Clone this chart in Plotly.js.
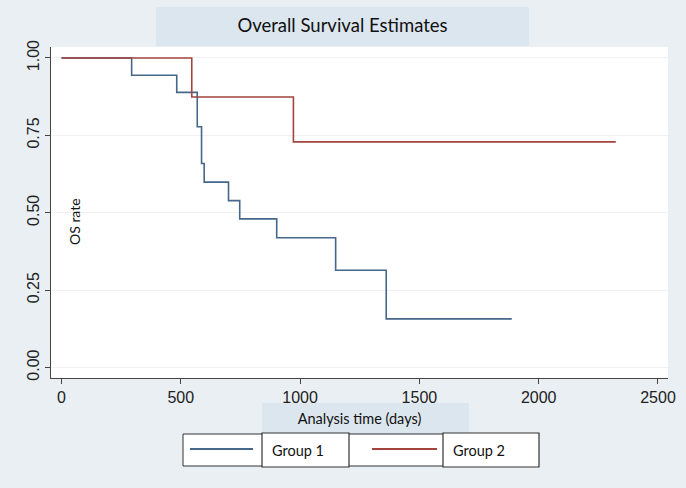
<!DOCTYPE html>
<html>
<head>
<meta charset="utf-8">
<script src="https://cdn.plot.ly/plotly-3.0.1.min.js"></script>
<style>html,body{margin:0;padding:0;background:#e9eff3;}#chart{width:686px;height:488px;}</style>
</head>
<body>
<div id="chart"></div>
<script>
// ---- data ----
const group1Time = [0, 294, 483, 569, 587, 598, 700, 747, 902, 1149, 1361, 1887];
const group1Surv = [1.000, 0.944, 0.889, 0.778, 0.659, 0.599, 0.539, 0.480, 0.419, 0.314, 0.157, 0.157];
const group2Time = [0, 546, 972, 2323];
const group2Surv = [1.000, 0.874, 0.729, 0.729];
const seriesNames = ["Group 1", "Group 2"];
const xTicks = [0, 500, 1000, 1500, 2000, 2500];
const yTicks = [0, 0.25, 0.5, 0.75, 1.0];
const yTickLabels = ["0.00", "0.25", "0.50", "0.75", "1.00"];

// ---- layout helpers (pixel -> paper) ----
const W = 686, H = 488, ML = 51, MR = 18, MT = 47, MB = 110;
const PW = W - ML - MR, PH = H - MT - MB;
const fx = p => (p - ML) / PW;
const fy = p => (H - MB - p) / PH;

const blue = '#46668a', red = '#a3443f';
const boxFill = '#dce6ee';
const calibri = 'Lato, "Open Sans", sans-serif';

const traces = [
  {x: group1Time, y: group1Surv, name: seriesNames[0], mode: 'lines', line: {shape: 'hv', color: blue, width: 1.6}, hoverinfo: 'x+y'},
  {x: group2Time, y: group2Surv, name: seriesNames[1], mode: 'lines', line: {shape: 'hv', color: red, width: 1.6}, hoverinfo: 'x+y'}
];

function rect(x0, y0, x1, y1, fill, lineColor, lw) {
  return {type: 'rect', xref: 'paper', yref: 'paper', x0: fx(x0), x1: fx(x1), y0: fy(y1), y1: fy(y0),
          fillcolor: fill, line: {color: lineColor || fill, width: lw || 0}, layer: 'above'};
}
function hline(x0, x1, y, color) {
  return {type: 'line', xref: 'paper', yref: 'paper', x0: fx(x0), x1: fx(x1), y0: fy(y), y1: fy(y),
          line: {color: color, width: 2}, layer: 'above'};
}

const shapes = [
  rect(156, 7, 529, 46, boxFill),              // title box
  rect(262, 403, 469, 434, boxFill),           // x title box
  rect(183, 434, 538, 466, '#ffffff', '#333333', 1), // legend outer
  rect(262, 433, 349, 467, '#ffffff', '#333333', 1.2),
  rect(443, 433, 539, 467, '#ffffff', '#333333', 1.2),
  hline(190, 253, 449, blue),
  hline(372, 437, 449, red)
];

const annotations = [
  {text: 'OS rate', xref: 'paper', yref: 'paper', x: fx(75), y: fy(222), textangle: -90, showarrow: false,
   font: {family: calibri, size: 14, color: '#111'}, xanchor: 'center', yanchor: 'middle'},
  {text: seriesNames[0], xref: 'paper', yref: 'paper', x: fx(298), y: fy(450), showarrow: false,
   font: {family: calibri, size: 14.5, color: '#111'}, xanchor: 'center', yanchor: 'middle'},
  {text: seriesNames[1], xref: 'paper', yref: 'paper', x: fx(479), y: fy(450), showarrow: false,
   font: {family: calibri, size: 14.5, color: '#111'}, xanchor: 'center', yanchor: 'middle'}
];

const layout = {
  width: W, height: H,
  margin: {l: ML, r: MR, t: MT, b: MB, pad: 0},
  paper_bgcolor: '#e9eff3',
  plot_bgcolor: '#ffffff',
  showlegend: false,
  title: {text: 'Overall Survival Estimates', xref: 'container', yref: 'container', x: 342.5 / W, y: 1 - 26 / H,
          xanchor: 'center', yanchor: 'middle', font: {family: calibri, size: 18.5, color: '#111'}},
  xaxis: {
    range: [-44, 2542], tickvals: xTicks, ticktext: xTicks.map(String),
    showgrid: false, zeroline: false, showline: true, linecolor: '#444', linewidth: 1,
    ticks: 'outside', ticklen: 5, tickcolor: '#444',
    tickfont: {family: '"Liberation Sans", Arial, sans-serif', size: 16, color: '#222'},
    title: {text: 'Analysis time (days)', standoff: 8, font: {family: calibri, size: 14.5, color: '#111'}}
  },
  yaxis: {
    range: [-0.034, 1.0355], tickvals: yTicks, ticktext: yTickLabels, tickangle: -90,
    showgrid: true, gridcolor: '#eef2f5', gridwidth: 1, zeroline: false,
    showline: true, linecolor: '#444', linewidth: 1,
    ticks: 'outside', ticklen: 5, tickcolor: '#444',
    tickfont: {family: '"Liberation Sans", Arial, sans-serif', size: 16, color: '#222'}
  },
  shapes: shapes,
  annotations: annotations
};

Plotly.newPlot('chart', traces, layout, {displayModeBar: false, staticPlot: true});
</script>
</body>
</html>
